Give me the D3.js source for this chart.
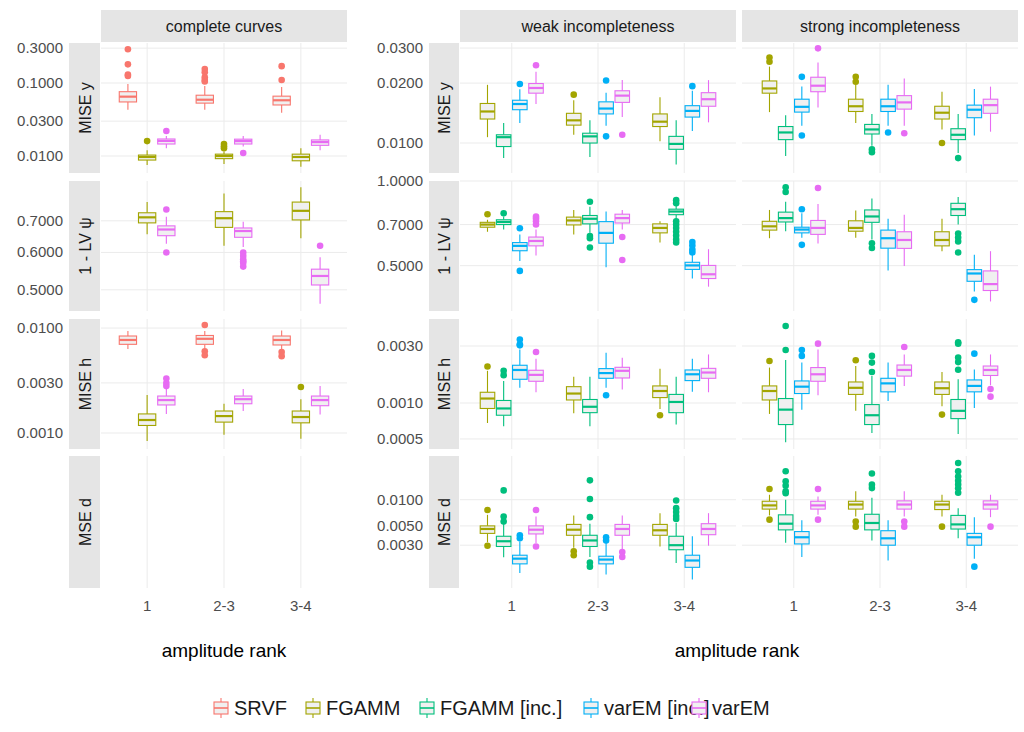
<!DOCTYPE html>
<html>
<head>
<meta charset="utf-8">
<script src="https://cdn.jsdelivr.net/npm/d3@7"></script>
<style>
  body { margin: 0; background: #fff; }
  text { font-family: "Liberation Sans", Arial, sans-serif; }
</style>
</head>
<body>
<div id="chart"></div>
<script>
// categories
const ranks = ["1", "2-3", "3-4"];
const methods = ["SRVF", "FGAMM", "FGAMM [inc.]", "varEM [inc.]", "varEM"];
const colors = ["#F8766D", "#A3A500", "#00BF7D", "#00B0F6", "#E76BF3"];
const scenarios = ["complete curves", "weak incompleteness", "strong incompleteness"];
const metrics = ["MISE y", "1 - LV \u03c8", "MISE h", "MSE d"];

// tick labels per block and metric
const leftTicks = [[0.01, 0.03, 0.1, 0.3], [0.5, 0.6, 0.7], [0.001, 0.003, 0.01], []];
const rightTicks = [[0.01, 0.02, 0.03], [0.5, 0.7, 1.0], [0.0005, 0.001, 0.003], [0.003, 0.005, 0.01]];

// box statistics: [method, rank, lower whisker, q1, median, q3, upper whisker, outliers]
const completeMiseY = [
  ["SRVF", "1", 0.043, 0.055, 0.065, 0.076, 0.097, [0.29, 0.18, 0.125, 0.13]],
  ["SRVF", "2-3", 0.043, 0.053, 0.059, 0.068, 0.091, [0.155, 0.14, 0.12, 0.11, 0.105]],
  ["SRVF", "3-4", 0.039, 0.05, 0.058, 0.066, 0.088, [0.17, 0.11]],
  ["FGAMM", "1", 0.0075, 0.0088, 0.0097, 0.0103, 0.012, [0.016]],
  ["FGAMM", "2-3", 0.0078, 0.0092, 0.01, 0.0106, 0.0115, [0.0146, 0.0136, 0.0128]],
  ["FGAMM", "3-4", 0.0071, 0.0086, 0.0097, 0.0106, 0.0128, []],
  ["varEM", "1", 0.0128, 0.0146, 0.0161, 0.0171, 0.0188, [0.022]],
  ["varEM", "2-3", 0.0135, 0.0146, 0.016, 0.017, 0.0188, [0.011]],
  ["varEM", "3-4", 0.012, 0.014, 0.0155, 0.0166, 0.0196, []]
];
const completeLv = [
  ["FGAMM", "1", 0.656, 0.693, 0.712, 0.728, 0.767, []],
  ["FGAMM", "2-3", 0.62, 0.678, 0.709, 0.732, 0.80, []],
  ["FGAMM", "3-4", 0.643, 0.703, 0.735, 0.767, 0.824, []],
  ["varEM", "1", 0.626, 0.651, 0.671, 0.683, 0.714, [0.74, 0.60]],
  ["varEM", "2-3", 0.616, 0.646, 0.666, 0.676, 0.697, [0.60, 0.59, 0.58, 0.575, 0.57, 0.56]],
  ["varEM", "3-4", 0.467, 0.512, 0.535, 0.553, 0.586, [0.62]]
];
const completeMiseH = [
  ["SRVF", "1", 0.0063, 0.0070, 0.0077, 0.0084, 0.0094, []],
  ["SRVF", "2-3", 0.0064, 0.0070, 0.0079, 0.0085, 0.0094, [0.0107, 0.006, 0.0055]],
  ["SRVF", "3-4", 0.0063, 0.0069, 0.0077, 0.0084, 0.0095, [0.0059, 0.0054]],
  ["FGAMM", "1", 0.00084, 0.00118, 0.00133, 0.00152, 0.0023, []],
  ["FGAMM", "2-3", 0.00096, 0.00127, 0.00145, 0.00162, 0.0019, []],
  ["FGAMM", "3-4", 0.00088, 0.00125, 0.00142, 0.00162, 0.0021, [0.00274]],
  ["varEM", "1", 0.00152, 0.00185, 0.00206, 0.00225, 0.0027, [0.0033, 0.003, 0.0028]],
  ["varEM", "2-3", 0.00162, 0.0019, 0.0021, 0.00225, 0.00263, []],
  ["varEM", "3-4", 0.0015, 0.00182, 0.00206, 0.00225, 0.0028, []]
];
const weakMiseY = [
  ["FGAMM", "1", 0.0107, 0.0132, 0.0144, 0.0158, 0.0196, []],
  ["FGAMM [inc.]", "1", 0.0084, 0.0096, 0.0107, 0.011, 0.0126, []],
  ["varEM [inc.]", "1", 0.0126, 0.0147, 0.0157, 0.0164, 0.0186, [0.0198]],
  ["varEM", "1", 0.0157, 0.0178, 0.0189, 0.0199, 0.0228, [0.0246]],
  ["FGAMM", "2-3", 0.011, 0.0123, 0.013, 0.0141, 0.0164, [0.0175]],
  ["FGAMM [inc.]", "2-3", 0.0085, 0.01, 0.0108, 0.0112, 0.013, []],
  ["varEM [inc.]", "2-3", 0.0122, 0.014, 0.0149, 0.0161, 0.0179, [0.0206, 0.0108]],
  ["varEM", "2-3", 0.0135, 0.016, 0.0173, 0.0183, 0.0207, [0.011]],
  ["FGAMM", "3-4", 0.0102, 0.0121, 0.0128, 0.014, 0.017, []],
  ["FGAMM [inc.]", "3-4", 0.0078, 0.0093, 0.0099, 0.0108, 0.013, []],
  ["varEM [inc.]", "3-4", 0.0115, 0.0135, 0.0145, 0.0154, 0.0183, [0.0193]],
  ["varEM", "3-4", 0.0127, 0.0153, 0.0166, 0.0179, 0.0207, []]
];
const strongMiseY = [
  ["FGAMM", "1", 0.0143, 0.0178, 0.0188, 0.0205, 0.0242, [0.0269, 0.0256]],
  ["FGAMM [inc.]", "1", 0.0086, 0.0104, 0.0113, 0.0121, 0.0138, []],
  ["varEM [inc.]", "1", 0.0122, 0.0143, 0.0152, 0.0166, 0.0192, [0.0215, 0.0109]],
  ["varEM", "1", 0.0151, 0.0181, 0.0194, 0.0214, 0.0254, [0.0299]],
  ["FGAMM", "2-3", 0.0126, 0.0144, 0.0153, 0.0166, 0.0196, [0.0215, 0.0203]],
  ["FGAMM [inc.]", "2-3", 0.0097, 0.0111, 0.0117, 0.0124, 0.014, [0.0093, 0.009]],
  ["varEM [inc.]", "2-3", 0.0122, 0.0144, 0.0153, 0.0166, 0.0196, [0.0113]],
  ["varEM", "2-3", 0.0122, 0.0148, 0.016, 0.0173, 0.0211, [0.0112]],
  ["FGAMM", "3-4", 0.0117, 0.0132, 0.0142, 0.0153, 0.0181, [0.01]],
  ["FGAMM [inc.]", "3-4", 0.0089, 0.0104, 0.011, 0.0118, 0.014, [0.0084]],
  ["varEM [inc.]", "3-4", 0.0109, 0.0134, 0.0147, 0.0155, 0.0187, []],
  ["varEM", "3-4", 0.0114, 0.0141, 0.0155, 0.0166, 0.0192, []]
];
const weakLv = [
  ["FGAMM", "1", 0.66, 0.685, 0.70, 0.713, 0.728, [0.762]],
  ["FGAMM [inc.]", "1", 0.672, 0.70, 0.715, 0.728, 0.748, [0.768]],
  ["varEM [inc.]", "1", 0.52, 0.565, 0.588, 0.604, 0.646, [0.679, 0.479]],
  ["varEM", "1", 0.543, 0.588, 0.612, 0.632, 0.672, [0.748, 0.735, 0.72, 0.70]],
  ["FGAMM", "2-3", 0.646, 0.698, 0.724, 0.744, 0.789, []],
  ["FGAMM [inc.]", "2-3", 0.654, 0.704, 0.734, 0.754, 0.81, [0.844, 0.637, 0.626, 0.58]],
  ["varEM [inc.]", "2-3", 0.494, 0.601, 0.654, 0.717, 0.779, []],
  ["varEM", "2-3", 0.672, 0.709, 0.738, 0.762, 0.789, [0.632, 0.524]],
  ["FGAMM", "3-4", 0.604, 0.654, 0.681, 0.704, 0.719, []],
  ["FGAMM [inc.]", "3-4", 0.728, 0.759, 0.779, 0.794, 0.822, [0.855, 0.833, 0.719, 0.70, 0.68, 0.66, 0.64, 0.62, 0.605]],
  ["varEM [inc.]", "3-4", 0.45, 0.485, 0.501, 0.514, 0.546, [0.607, 0.59, 0.57, 0.557]],
  ["varEM", "3-4", 0.421, 0.45, 0.466, 0.501, 0.572, []]
];
const strongLv = [
  ["FGAMM", "1", 0.626, 0.669, 0.69, 0.719, 0.789, []],
  ["FGAMM [inc.]", "1", 0.663, 0.715, 0.738, 0.775, 0.844, [0.95, 0.914]],
  ["varEM [inc.]", "1", 0.628, 0.654, 0.672, 0.685, 0.768, [0.794, 0.593]],
  ["varEM", "1", 0.60, 0.646, 0.681, 0.724, 0.828, [0.944]],
  ["FGAMM", "2-3", 0.628, 0.663, 0.681, 0.722, 0.785, []],
  ["FGAMM [inc.]", "2-3", 0.62, 0.713, 0.748, 0.789, 0.867, [0.601, 0.578]],
  ["varEM [inc.]", "2-3", 0.481, 0.577, 0.626, 0.669, 0.734, []],
  ["varEM", "2-3", 0.499, 0.576, 0.617, 0.66, 0.759, []],
  ["FGAMM", "3-4", 0.563, 0.588, 0.617, 0.66, 0.734, []],
  ["FGAMM [inc.]", "3-4", 0.70, 0.754, 0.794, 0.833, 0.878, [0.65, 0.63, 0.61, 0.557]],
  ["varEM [inc.]", "3-4", 0.405, 0.44, 0.469, 0.484, 0.547, [0.378]],
  ["varEM", "3-4", 0.373, 0.408, 0.43, 0.479, 0.563, []]
];
const weakMiseH = [
  ["FGAMM", "1", 0.00068, 0.0009, 0.00109, 0.00123, 0.00186, [0.00202]],
  ["FGAMM [inc.]", "1", 0.00064, 0.00079, 0.0009, 0.00105, 0.00153, [0.00186, 0.00171]],
  ["varEM [inc.]", "1", 0.00134, 0.00158, 0.00189, 0.00207, 0.0028, [0.0034, 0.0031, 0.00304]],
  ["varEM", "1", 0.00123, 0.00152, 0.00172, 0.00188, 0.00235, [0.00267]],
  ["FGAMM", "2-3", 0.00082, 0.00106, 0.0012, 0.00137, 0.00166, []],
  ["FGAMM [inc.]", "2-3", 0.00064, 0.00083, 0.00093, 0.00107, 0.00166, []],
  ["varEM [inc.]", "2-3", 0.00134, 0.00161, 0.00178, 0.00194, 0.00264, [0.00116]],
  ["varEM", "2-3", 0.0013, 0.00162, 0.00186, 0.00199, 0.00239, []],
  ["FGAMM", "3-4", 0.00089, 0.00111, 0.00126, 0.00139, 0.00194, [0.00079]],
  ["FGAMM [inc.]", "3-4", 0.00066, 0.00083, 0.00102, 0.00118, 0.00166, []],
  ["varEM [inc.]", "3-4", 0.00124, 0.00154, 0.00174, 0.00189, 0.00235, []],
  ["varEM", "3-4", 0.00123, 0.00161, 0.0018, 0.00195, 0.00255, []]
];
const strongMiseH = [
  ["FGAMM", "1", 0.00081, 0.00106, 0.00126, 0.00139, 0.00198, [0.00225]],
  ["FGAMM [inc.]", "1", 0.00047, 0.00066, 0.00088, 0.00109, 0.00229, [0.00441, 0.00278]],
  ["varEM [inc.]", "1", 0.00088, 0.0012, 0.00137, 0.00153, 0.00218, [0.00278, 0.00248]],
  ["varEM", "1", 0.00116, 0.00152, 0.00174, 0.00198, 0.0028, [0.00314]],
  ["FGAMM", "2-3", 0.00086, 0.00118, 0.00134, 0.0015, 0.00204, [0.00228]],
  ["FGAMM [inc.]", "2-3", 0.00056, 0.00066, 0.00079, 0.00097, 0.00168, [0.00248, 0.00218, 0.00182]],
  ["varEM [inc.]", "2-3", 0.00104, 0.00124, 0.00146, 0.00161, 0.00218, []],
  ["varEM", "2-3", 0.00139, 0.00168, 0.00189, 0.00208, 0.00255, [0.00294]],
  ["FGAMM", "3-4", 0.00094, 0.00118, 0.00133, 0.0015, 0.00182, [0.0008]],
  ["FGAMM [inc.]", "3-4", 0.00055, 0.00074, 0.00086, 0.00107, 0.00158, [0.00323, 0.00314, 0.0024, 0.0022, 0.0019]],
  ["varEM [inc.]", "3-4", 0.00091, 0.00124, 0.00139, 0.00156, 0.00191, [0.00259]],
  ["varEM", "3-4", 0.00141, 0.0017, 0.00189, 0.00204, 0.00255, [0.00131, 0.00113]]
];
const weakMseD = [
  ["FGAMM", "1", 0.00324, 0.0041, 0.00461, 0.005, 0.0067, [0.0076, 0.00296]],
  ["FGAMM [inc.]", "1", 0.00218, 0.0029, 0.00333, 0.0038, 0.0052, [0.0128, 0.0064, 0.0056]],
  ["varEM [inc.]", "1", 0.00144, 0.00183, 0.0021, 0.0023, 0.0033, [0.0039, 0.0036]],
  ["varEM", "1", 0.00318, 0.00404, 0.00452, 0.005, 0.0064, [0.0076, 0.0029]],
  ["FGAMM", "2-3", 0.0028, 0.0039, 0.00452, 0.0052, 0.0066, [0.00255, 0.0023]],
  ["FGAMM [inc.]", "2-3", 0.0022, 0.0029, 0.0034, 0.0039, 0.0053, [0.0167, 0.0102, 0.0063, 0.0019, 0.0017]],
  ["varEM [inc.]", "2-3", 0.00138, 0.00183, 0.00205, 0.00224, 0.00318, [0.0037, 0.0034]],
  ["varEM", "2-3", 0.00266, 0.0039, 0.00461, 0.0052, 0.0066, [0.0025, 0.0022]],
  ["FGAMM", "3-4", 0.0029, 0.0039, 0.00445, 0.0052, 0.007, []],
  ["FGAMM [inc.]", "3-4", 0.00187, 0.00266, 0.003, 0.0038, 0.0054, [0.0098, 0.008, 0.0072, 0.0065, 0.006]],
  ["varEM [inc.]", "3-4", 0.00121, 0.00167, 0.002, 0.0023, 0.0038, []],
  ["varEM", "3-4", 0.00296, 0.00396, 0.00461, 0.0053, 0.007, []]
];
const strongMseD = [
  ["FGAMM", "1", 0.0066, 0.0078, 0.0086, 0.0096, 0.0114, [0.0133, 0.0059]],
  ["FGAMM [inc.]", "1", 0.0032, 0.0045, 0.0053, 0.0067, 0.01, [0.0212, 0.0163, 0.0145, 0.0125, 0.0119]],
  ["varEM [inc.]", "1", 0.0022, 0.0031, 0.0037, 0.0043, 0.0058, []],
  ["varEM", "1", 0.0067, 0.0078, 0.0086, 0.0096, 0.0109, [0.0133, 0.0059]],
  ["FGAMM", "2-3", 0.0064, 0.0078, 0.0088, 0.0096, 0.0125, [0.0056, 0.0049]],
  ["FGAMM [inc.]", "2-3", 0.0034, 0.0045, 0.0054, 0.0068, 0.0105, [0.02, 0.0149, 0.0136]],
  ["varEM [inc.]", "2-3", 0.002, 0.003, 0.0036, 0.0044, 0.0058, []],
  ["varEM", "2-3", 0.0064, 0.0078, 0.0088, 0.0097, 0.0125, [0.0056, 0.0049]],
  ["FGAMM", "3-4", 0.0064, 0.0077, 0.0088, 0.0096, 0.0114, [0.0049]],
  ["FGAMM [inc.]", "3-4", 0.0036, 0.0046, 0.0052, 0.0066, 0.008, [0.0264, 0.0212, 0.0185, 0.0165, 0.015, 0.0135, 0.012]],
  ["varEM [inc.]", "3-4", 0.0021, 0.003, 0.0037, 0.0041, 0.0063, [0.0017]],
  ["varEM", "3-4", 0.0063, 0.0078, 0.0088, 0.0097, 0.0114, [0.0049]]
];

const blocks = [
  { scen: [0], groups: ["SRVF", "FGAMM", "varEM"], cols: [[101, 347]], strip: [69, 100], ticks: leftTicks,
    domains: [[0.00585, 0.353], [0.451, 0.85], [0.000704, 0.0122], null],
    data: [[completeMiseY], [completeLv], [completeMiseH], [[]]], title: 224 },
  { scen: [1, 2], groups: ["FGAMM", "FGAMM [inc.]", "varEM [inc.]", "varEM"], cols: [[460, 736], [742, 1018]],
    strip: [429, 459], ticks: rightTicks,
    domains: [[0.00707, 0.0318], [0.345, 1.0], [0.000412, 0.00505], [0.000966, 0.0318]],
    data: [[weakMiseY, strongMiseY], [weakLv, strongLv], [weakMiseH, strongMiseH], [weakMseD, strongMseD]], title: 737 }
];
const rowsY = [[43, 173], [181, 311], [319, 449], [456, 588]];
const colorOf = m => colors[methods.indexOf(m)];

const svg = d3.select("#chart").append("svg").attr("width", 1024).attr("height", 732);

blocks.forEach(b => {
  b.cols.forEach((c, ci) => {
    svg.append("rect").attr("x", c[0]).attr("y", 10).attr("width", c[1] - c[0]).attr("height", 32).attr("fill", "#e5e5e5");
    svg.append("text").attr("x", (c[0] + c[1]) / 2).attr("y", 32).attr("text-anchor", "middle")
      .attr("font-size", 16).attr("fill", "#1a1a1a").text(scenarios[b.scen[ci]]);
  });
  rowsY.forEach((r, ri) => {
    svg.append("rect").attr("x", b.strip[0]).attr("y", r[0]).attr("width", b.strip[1] - b.strip[0])
      .attr("height", r[1] - r[0]).attr("fill", "#e5e5e5");
    svg.append("text").attr("transform", `translate(${(b.strip[0] + b.strip[1]) / 2 + 6},${(r[0] + r[1]) / 2}) rotate(-90)`)
      .attr("text-anchor", "middle").attr("font-size", 16).attr("fill", "#1a1a1a").text(metrics[ri]);

    const dom = b.domains[ri];
    const y = dom ? d3.scaleLog().domain(dom).range([r[1], r[0]]) : null;
    if (y) {
      b.ticks[ri].forEach(t => {
        svg.append("text").attr("x", b.strip[0] - 6).attr("y", y(t) + 5).attr("text-anchor", "end")
          .attr("font-size", 15).attr("fill", "#4d4d4d").text(t.toFixed(4));
      });
    }
    b.cols.forEach((c, ci) => {
      const x = d3.scalePoint().domain(ranks).range(c).padding(0.6);
      const g = svg.append("g");
      x.domain().forEach(k => g.append("line").attr("x1", x(k)).attr("x2", x(k)).attr("y1", r[0]).attr("y2", r[1])
        .attr("stroke", "#ebebeb").attr("stroke-width", 1));
      if (!y) return;
      b.ticks[ri].forEach(t => g.append("line").attr("x1", c[0]).attr("x2", c[1]).attr("y1", y(t)).attr("y2", y(t))
        .attr("stroke", "#ebebeb").attr("stroke-width", 1));
      const n = b.groups.length;
      const slot = 0.75 * x.step() / n;
      const bw = slot * 0.9;
      b.data[ri][ci].forEach(d => {
        const [m, rk, lo, q1, med, q3, hi, outs] = d;
        const cx = x(rk) + (b.groups.indexOf(m) - (n - 1) / 2) * slot;
        const col = colorOf(m);
        const bg = g.append("g").attr("stroke", col);
        bg.append("line").attr("x1", cx).attr("x2", cx).attr("y1", y(hi)).attr("y2", y(q3)).attr("stroke-width", 1.1);
        bg.append("line").attr("x1", cx).attr("x2", cx).attr("y1", y(q1)).attr("y2", y(lo)).attr("stroke-width", 1.1);
        bg.append("rect").attr("x", cx - bw / 2).attr("y", y(q3)).attr("width", bw).attr("height", Math.max(1, y(q1) - y(q3)))
          .attr("fill", "#f0f0f0").attr("stroke-width", 1.1);
        bg.append("line").attr("x1", cx - bw / 2).attr("x2", cx + bw / 2).attr("y1", y(med)).attr("y2", y(med)).attr("stroke-width", 2.2);
        outs.forEach(o => g.append("circle").attr("cx", cx).attr("cy", y(o)).attr("r", 3.3).attr("fill", col));
      });
    });
  });
  b.cols.forEach(c => {
    const x = d3.scalePoint().domain(ranks).range(c).padding(0.6);
    ranks.forEach(k => svg.append("text").attr("x", x(k)).attr("y", 611).attr("text-anchor", "middle")
      .attr("font-size", 15).attr("fill", "#4d4d4d").text(k));
  });
  svg.append("text").attr("x", b.title).attr("y", 657).attr("text-anchor", "middle")
    .attr("font-size", 19).attr("fill", "#000").text("amplitude rank");
});

// legend
const legendX = [213, 305, 419, 583, 691];
methods.forEach((m, i) => {
  const lx = legendX[i], ly = 708, col = colors[i];
  const lg = svg.append("g").attr("stroke", col);
  lg.append("line").attr("x1", lx + 8).attr("x2", lx + 8).attr("y1", ly - 10).attr("y2", ly + 10).attr("stroke-width", 1.1);
  lg.append("rect").attr("x", lx + 1).attr("y", ly - 6).attr("width", 14).attr("height", 12).attr("fill", "#f0f0f0").attr("stroke-width", 1.1);
  lg.append("line").attr("x1", lx + 1).attr("x2", lx + 15).attr("y1", ly).attr("y2", ly).attr("stroke-width", 1.6);
  svg.append("text").attr("x", lx + 21).attr("y", ly + 7).attr("font-size", 20).attr("fill", "#1a1a1a").text(m);
});
</script>
</body>
</html>
